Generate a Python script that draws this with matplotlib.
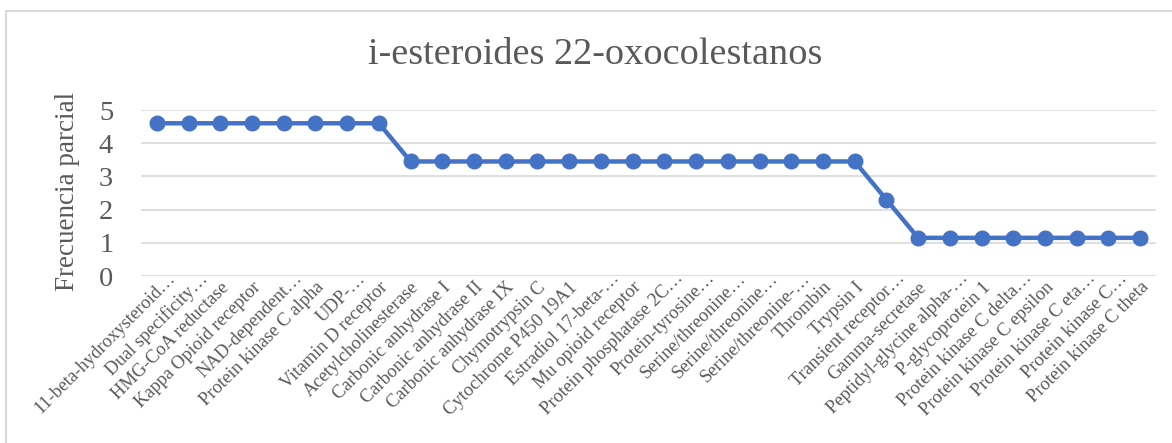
import matplotlib
matplotlib.use("Agg")
import matplotlib.pyplot as plt
from matplotlib.patches import Rectangle
from matplotlib.transforms import ScaledTranslation

targets = [
    "11-beta-hydroxysteroid…", "Dual specificity…", "HMG-CoA reductase",
    "Kappa Opioid receptor", "NAD-dependent…", "Protein kinase C alpha",
    "UDP-…", "Vitamin D receptor", "Acetylcholinesterase",
    "Carbonic anhydrase I", "Carbonic anhydrase II", "Carbonic anhydrase IX",
    "Chymotrypsin C", "Cytochrome P450 19A1", "Estradiol 17-beta-…",
    "Mu opioid receptor", "Protein phosphatase 2C…", "Protein-tyrosine…",
    "Serine/threonine…", "Serine/threonine…", "Serine/threonine-…",
    "Thrombin", "Trypsin I", "Transient receptor…", "Gamma-secretase",
    "Peptidyl-glycine alpha-…", "P-glycoprotein 1", "Protein kinase C delta…",
    "Protein kinase C epsilon", "Protein kinase C eta…", "Protein kinase C…",
    "Protein kinase C theta",
]
frecuencia = [
    4.60, 4.60, 4.60, 4.60, 4.60, 4.60, 4.60, 4.60,
    3.45, 3.45, 3.45, 3.45, 3.45, 3.45, 3.45, 3.45,
    3.45, 3.45, 3.45, 3.45, 3.45, 3.45, 3.45,
    2.30,
    1.15, 1.15, 1.15, 1.15, 1.15, 1.15, 1.15, 1.15,
]
yticks = [0, 1, 2, 3, 4, 5]

plt.rcParams["font.family"] = ["Liberation Serif", "DejaVu Serif"]

W, H = 1172, 443
fig = plt.figure(figsize=(W / 100, H / 100), dpi=100)

# chart frame (runs off the right and bottom edges)
fig.patches.append(Rectangle((6 / W, -10 / H), (W + 20) / W, (H - 11 + 10) / H,
                             transform=fig.transFigure, fill=False,
                             edgecolor="#D9D9D9", linewidth=1.5))

ax = fig.add_axes([141 / W, 1 - 276 / H, (1156 - 141) / W, (276 - 110) / H])
x = list(range(len(targets)))
ax.plot(x, frecuencia, color="#4472C4", linewidth=3.2, marker="o",
        markersize=10.5, zorder=3)

ax.set_xlim(-0.5, len(targets) - 0.5)
ax.set_ylim(0, 5)
ax.set_yticks(yticks)
ax.set_yticklabels([str(t) for t in yticks], fontsize=20.5, color="#595959")
ax.grid(axis="y", color="#D9D9D9", linewidth=1.2)
ax.set_axisbelow(True)
for s in ax.spines.values():
    s.set_visible(False)
ax.tick_params(axis="both", length=0)
ax.tick_params(axis="y", pad=20)

ax.set_xticks(x)
ax.set_xticklabels(targets, rotation=45, ha="right", rotation_mode="anchor",
                   fontsize=13.3, color="#595959")
ax.tick_params(axis="x", pad=2)
# truncated names carry their ellipsis past the category position
trail = ScaledTranslation(0.10, 0.09, fig.dpi_scale_trans)
for lbl in ax.get_xticklabels():
    if lbl.get_text().endswith("…"):
        lbl.set_transform(lbl.get_transform() + trail)

fig.text(67 / W, 1 - 191 / H, "Frecuencia parcial", rotation=90,
         ha="center", va="center", fontsize=19.5, color="#595959")
fig.text(595 / W, 1 - 55 / H, "i-esteroides 22-oxocolestanos",
         ha="center", va="center", fontsize=27.5, color="#595959")

fig.savefig("out.png", dpi=100)
